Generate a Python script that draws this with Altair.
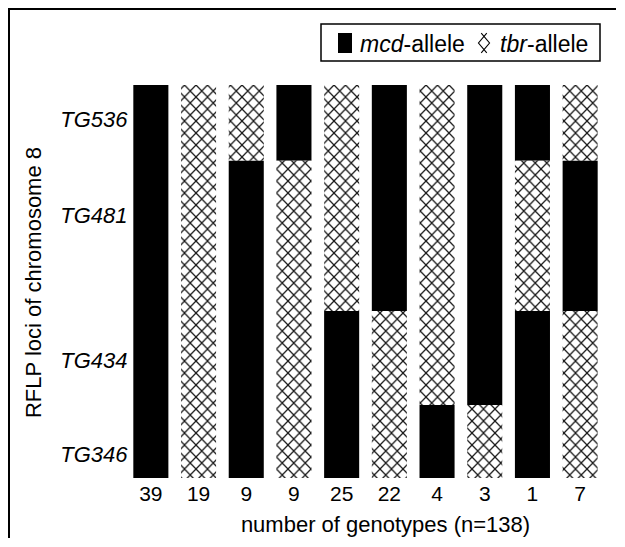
import altair as alt
import pandas as pd

# ---- data ----
loci = ["TG536", "TG481", "TG434", "TG346"]
locus_label_pos = [8.8, 33.1, 70.1, 94.1]          # position of each locus label on the map axis (0 top, 100 bottom)
boundaries = [0, 19.3, 57.5, 81.4, 100]             # interval limits drawn for each locus
counts = [39, 19, 9, 9, 25, 22, 4, 3, 1, 7]         # number of genotypes per class
# allele per locus (TG536, TG481, TG434, TG346): M = mcd, T = tbr
genotypes = ["MMMM", "TTTT", "TMMM", "MTTT", "TTMM", "MMTT", "TTTM", "MMMT", "MTMM", "TMTT"]
allele_names = {"M": "mcd", "T": "tbr"}

rows = []
for i, g in enumerate(genotypes):
    start = 0
    for j in range(1, len(g) + 1):
        if j == len(g) or g[j] != g[start]:
            rows.append({"col": i + 1, "allele": allele_names[g[start]],
                         "y0": boundaries[start], "y1": boundaries[j]})
            start = j
df = pd.DataFrame(rows)

FONT = "Liberation Sans"
W, H = 477, 393

x_label_expr = "[" + ",".join("'%d'" % c for c in counts) + "][datum.value - 1]"
y_label_expr = ("[" + ",".join("'%s'" % l for l in loci) + "][indexof(["
                + ",".join(str(p) for p in locus_label_pos) + "], datum.value)]")

bars = alt.Chart(df).mark_rect().encode(
    x=alt.X("col:O",
            scale=alt.Scale(paddingInner=0.265, paddingOuter=0.1325),
            axis=alt.Axis(domain=False, ticks=False, labelAngle=0, labelFontSize=21,
                          labelPadding=5, labelExpr=x_label_expr, labelFont=FONT,
                          labelColor="black",
                          title="number of genotypes (n=138)", titleFont=FONT,
                          titleFontSize=22, titleFontWeight="normal", titleColor="black",
                          titleX=258, titleY=53, titleAlign="center",
                          titleBaseline="alphabetic")),
    y=alt.Y("y0:Q",
            scale=alt.Scale(domain=[0, 100], reverse=True, nice=False, zero=False),
            axis=alt.Axis(domain=False, ticks=False, grid=False, values=locus_label_pos,
                          labelExpr=y_label_expr, labelFontStyle="italic", labelFontSize=22,
                          labelFont=FONT, labelColor="black", labelPadding=0,
                          title="RFLP loci of chromosome 8", titleFont=FONT,
                          titleFontSize=22, titleFontWeight="normal", titleColor="black",
                          titleAngle=270, titleX=-94, titleY=197, titleAlign="center",
                          titleBaseline="middle")),
    y2="y1:Q",
    fill=alt.Fill("allele:N",
                  scale=alt.Scale(domain=["mcd", "tbr"], range=["#000000", "url(#xhatch)"]),
                  legend=None),
)

one = pd.DataFrame({"k": [0]})

frame_top = alt.Chart(one).mark_rule(color="black", strokeWidth=2).encode(
    x=alt.value(-118), x2=alt.value(W + 20), y=alt.value(-76))
frame_left = alt.Chart(one).mark_rule(color="black", strokeWidth=2).encode(
    x=alt.value(-118), y=alt.value(-77), y2=alt.value(H + 70))

legend_box = alt.Chart(one).mark_rect(fill="white", stroke="black", strokeWidth=1.5).encode(
    x=alt.value(194), x2=alt.value(473), y=alt.value(-61), y2=alt.value(-24))
legend_sq = alt.Chart(one).mark_rect(fill="black").encode(
    x=alt.value(211), x2=alt.value(225), y=alt.value(-52), y2=alt.value(-32))

def txt(s, x, italic):
    kw = dict(text=s, font=FONT, fontSize=23, align="left", baseline="alphabetic", color="black")
    if italic:
        kw["fontStyle"] = "italic"
    return alt.Chart(one).mark_text(**kw).encode(x=alt.value(x), y=alt.value(-33))

glyph_path = "M-0.25,-0.9L0.5,0L-0.25,0.9M0.25,-0.9L-0.5,0L0.25,0.9"
legend_glyph = alt.Chart(one).mark_point(shape=glyph_path, size=490, filled=False,
                                         stroke="black", strokeWidth=1.1, opacity=1).encode(
    x=alt.value(357), y=alt.value(-42))

chart = alt.layer(
    bars, frame_top, frame_left, legend_box, legend_sq,
    txt("mcd", 233, True), txt("-allele", 276.5, False),
    legend_glyph,
    txt("tbr", 373, True), txt("-allele", 400, False),
).properties(
    width=W, height=H,
    autosize=alt.AutoSizeParams(type="none"),
    padding={"left": 119, "top": 77, "right": 12, "bottom": 60},
    background="white",
).configure_view(stroke=None)

chart.save("out.html", embed_options={"renderer": "svg", "actions": False})

# cross-hatch fill pattern referenced by the tbr segments
defs = ('<svg width="0" height="0" style="position:absolute">'
        '<defs><pattern id="xhatch" patternUnits="userSpaceOnUse" width="11.5" height="12">'
        '<rect width="11.5" height="12" fill="white"/>'
        '<path d="M-1.15,-1.2L12.65,13.2M12.65,-1.2L-1.15,13.2" stroke="#1a1a1a" '
        'stroke-width="1.3" fill="none"/>'
        '</pattern></defs></svg>')
with open("out.html", encoding="utf-8") as f:
    html = f.read()
if "<body>" in html:
    html = html.replace("<body>", "<body>" + defs, 1)
else:
    html = defs + html
with open("out.html", "w", encoding="utf-8") as f:
    f.write(html)
